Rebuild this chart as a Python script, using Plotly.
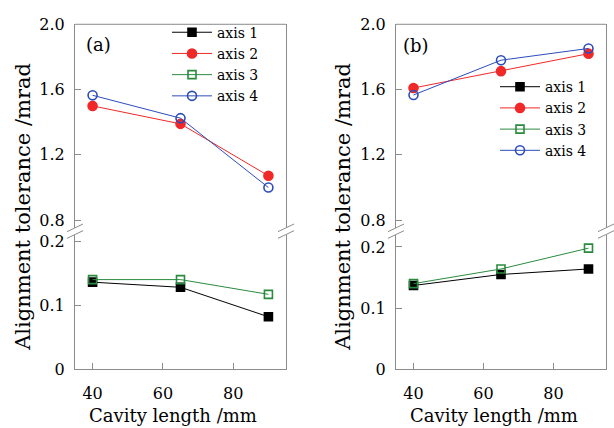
import plotly.graph_objects as go

# ---------------- data ----------------
cavity_length = [40, 65, 90]

# panel (a)
a_axis1 = [0.136, 0.128, 0.082]
a_axis2 = [1.50, 1.39, 1.072]
a_axis3 = [0.140, 0.140, 0.117]
a_axis4 = [1.565, 1.425, 1.00]

# panel (b)
b_axis1 = [0.137, 0.155, 0.164]
b_axis2 = [1.61, 1.713, 1.82]
b_axis3 = [0.140, 0.164, 0.198]
b_axis4 = [1.567, 1.78, 1.852]

series_names = ["axis 1", "axis 2", "axis 3", "axis 4"]
upper_ticks = [0.8, 1.2, 1.6, 2.0]
upper_ticktext = ["0.8", "1.2", "1.6", "2.0"]
lower_ticks = [0, 0.1, 0.2]
lower_ticktext = ["0", "0.1", "0.2"]
x_ticks = [40, 60, 80]

# ---------------- styling ----------------
W, H = 614, 428
FONT = "DejaVu Serif"
GRAY = "#8c8c8c"
BLACK = "#000000"
RED = "#f02828"
GREEN = "#2a8a3e"
BLUE = "#2c4cbc"

def px(x):
    return x / W

def py(y):
    return 1 - y / H

# pixel geometry
A_X = (75, 286)
B_X = (396, 606)
TOP, UP_BOT, LO_TOP, BOT = 16, 229, 236, 377

styles = {
    "axis 1": dict(color=BLACK, symbol="square", size=8),
    "axis 2": dict(color=RED, symbol="circle", size=9),
    "axis 3": dict(color=GREEN, symbol="square-open", size=8),
    "axis 4": dict(color=BLUE, symbol="circle-open", size=9),
}

fig = go.Figure()

def add(name, yvals, xa, ya, legend):
    s = styles[name]
    fig.add_trace(go.Scatter(
        x=cavity_length, y=yvals, name=name, mode="lines+markers",
        xaxis=xa, yaxis=ya, legend=legend,
        line=dict(color=s["color"], width=1),
        marker=dict(symbol=s["symbol"], size=s["size"], color=s["color"],
                    line=dict(color=s["color"], width=1.6)),
    ))

# panel a: x / y (lower), y2 (upper)
add("axis 1", a_axis1, "x", "y", "legend")
add("axis 2", a_axis2, "x", "y2", "legend")
add("axis 3", a_axis3, "x", "y", "legend")
add("axis 4", a_axis4, "x", "y2", "legend")
# panel b: x2 / y3 (lower), y4 (upper)
add("axis 1", b_axis1, "x2", "y3", "legend2")
add("axis 2", b_axis2, "x2", "y4", "legend2")
add("axis 3", b_axis3, "x2", "y3", "legend2")
add("axis 4", b_axis4, "x2", "y4", "legend2")

tickfont = dict(family=FONT, size=16, color=BLACK)

def xaxis(dom, anchor):
    return dict(domain=[px(dom[0]), px(dom[1])], anchor=anchor, range=[35, 95],
                tickvals=x_ticks, ticks="inside", ticklen=6, tickcolor=GRAY,
                showline=True, linecolor=GRAY, linewidth=1, showgrid=False,
                zeroline=False, tickfont=tickfont, ticklabelstandoff=10)

def yaxis(lo, hi, rng, tv, tt, anchor):
    return dict(domain=[py(lo), py(hi)], anchor=anchor, range=rng,
                tickvals=tv, ticktext=tt, ticks="inside", ticklen=6, tickcolor=GRAY,
                showline=True, mirror=True, linecolor=GRAY, linewidth=1,
                showgrid=False, zeroline=False, tickfont=tickfont,
                ticklabelstandoff=6)

up_lo = 0.8 - (UP_BOT - 221) / ((221 - TOP) / 1.2)
legfont = dict(family=FONT, size=14, color=BLACK)
fig.update_layout(
    width=W, height=H, margin=dict(l=0, r=0, t=0, b=0),
    paper_bgcolor="white", plot_bgcolor="white",
    font=dict(family=FONT, color=BLACK),
    xaxis=xaxis(A_X, "y"),
    xaxis2=xaxis(B_X, "y3"),
    yaxis=yaxis(BOT, LO_TOP, [0, 0.2104], lower_ticks, lower_ticktext, "x"),
    yaxis2=yaxis(UP_BOT, TOP, [up_lo, 2.0], upper_ticks, upper_ticktext, "x"),
    yaxis3=yaxis(BOT, LO_TOP, [0, 0.2203], lower_ticks, lower_ticktext, "x2"),
    yaxis4=yaxis(UP_BOT, TOP, [up_lo, 2.0], upper_ticks, upper_ticktext, "x2"),
    legend=dict(x=px(167), y=py(8), xanchor="left", yanchor="top",
                font=legfont, bgcolor="rgba(0,0,0,0)", itemwidth=40, tracegroupgap=0),
    legend2=dict(x=px(495), y=py(65), xanchor="left", yanchor="top",
                 font=legfont, bgcolor="rgba(0,0,0,0)", itemwidth=40, tracegroupgap=0),
    showlegend=True,
)

# frame top lines and axis-break marks
shapes = []
for (x0, x1) in (A_X, B_X):
    shapes.append(dict(type="line", xref="paper", yref="paper",
                       x0=px(x0), x1=px(x1), y0=py(TOP), y1=py(TOP),
                       line=dict(color=GRAY, width=1)))
    for xc in (x0, x1):
        for yc in (UP_BOT, LO_TOP):
            shapes.append(dict(type="line", xref="paper", yref="paper",
                               x0=px(xc - 8), x1=px(xc + 8),
                               y0=py(yc + 4), y1=py(yc - 4),
                               line=dict(color=GRAY, width=1)))
fig.update_layout(shapes=shapes)

# titles and panel labels
ann = []
for xc in (172.5, 494):
    ann.append(dict(text="Cavity length /mm", x=px(xc), y=py(425), xref="paper", yref="paper",
                    showarrow=False, xanchor="center", yanchor="middle",
                    font=dict(family=FONT, size=18, color=BLACK)))
for xc in (23, 343):
    ann.append(dict(text="Alignment tolerance /mrad", x=px(xc), y=py(207), xref="paper", yref="paper",
                    showarrow=False, xanchor="center", yanchor="middle", textangle=-90,
                    font=dict(family=FONT, size=21, color=BLACK)))
for lab, xc, yc in (("(a)", 99, 37), ("(b)", 416, 38)):
    ann.append(dict(text=lab, x=px(xc), y=py(yc), xref="paper", yref="paper",
                    showarrow=False, xanchor="center", yanchor="middle",
                    font=dict(family=FONT, size=18, color=BLACK)))
fig.update_layout(annotations=ann)

fig.write_html("out.html")
